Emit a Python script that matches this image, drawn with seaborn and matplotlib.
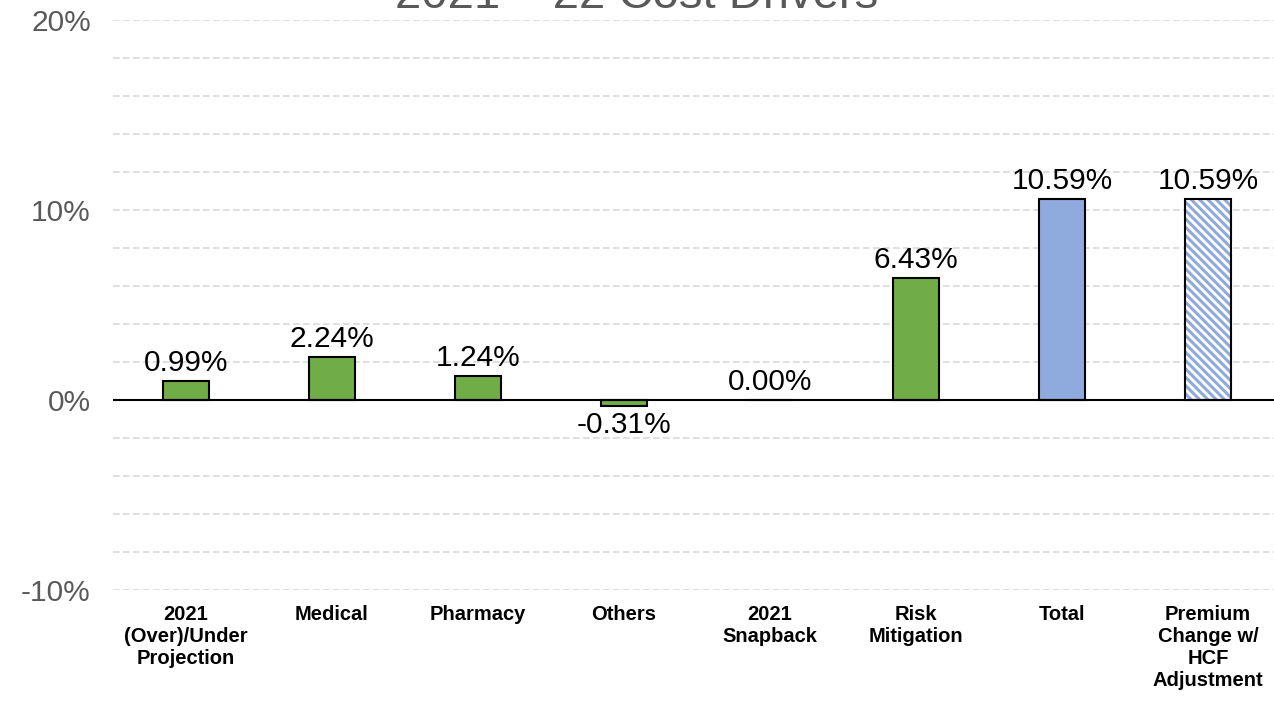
import matplotlib
matplotlib.use('Agg')
import matplotlib.pyplot as plt
import seaborn as sns
import pandas as pd
from matplotlib.colors import to_rgba
from matplotlib.ticker import MultipleLocator, FuncFormatter

categories = ['2021\n(Over)/Under\nProjection', 'Medical', 'Pharmacy', 'Others',
              '2021\nSnapback', 'Risk\nMitigation', 'Total',
              'Premium\nChange w/\nHCF\nAdjustment']
values = [0.99, 2.24, 1.24, -0.31, 0.00, 6.43, 10.59, 10.59]
labels = ['0.99%', '2.24%', '1.24%', '-0.31%', '0.00%', '6.43%', '10.59%', '10.59%']
bar_colors = ['#70AD47'] * 6 + ['#8FAADC', '#FFFFFF']

sns.set_style('white')
plt.rcParams['font.family'] = ['Liberation Sans', 'DejaVu Sans']
plt.rcParams['hatch.linewidth'] = 2.2

df = pd.DataFrame({'cat': categories, 'val': values})

fig = plt.figure(figsize=(12.74, 7.01), dpi=100)
ax = fig.add_axes([113 / 1274, 1 - 590 / 701, 1168 / 1274, 570 / 701])

sns.barplot(data=df, x='cat', y='val', hue='cat', palette=bar_colors, legend=False,
            width=0.32, edgecolor='black', linewidth=1.5, saturation=1, ax=ax, zorder=3)

# hatched last bar
last = ax.patches[-1]
last.set_hatch('\\\\\\\\')
last._hatch_color = to_rgba('#8FAADC')

ax.set_ylim(-10, 20)
ax.yaxis.set_major_locator(MultipleLocator(10))
ax.yaxis.set_minor_locator(MultipleLocator(2))
ax.yaxis.set_major_formatter(FuncFormatter(lambda v, p: f'{v:.0f}%'))
ax.grid(axis='y', which='both', linestyle=(0, (4, 2)), color='#D9D9D9', linewidth=1.2, zorder=0)
ax.axhline(0, color='black', linewidth=1.5, zorder=4)
for s in ax.spines.values():
    s.set_visible(False)
ax.tick_params(axis='y', which='both', length=0, labelsize=21.5, labelcolor='#595959', pad=16)
ax.tick_params(axis='x', length=0, pad=11)
for t in ax.get_xticklabels():
    t.set_fontweight('bold')
    t.set_fontsize(14.5)
    t.set_color('black')
    t.set_linespacing(1.2)
    t.set_verticalalignment('top')
ax.set_xlabel('')
ax.set_ylabel('')

for i, (v, lab) in enumerate(zip(values, labels)):
    if v < 0:
        ax.annotate(lab, (i, v), xytext=(0, -4), textcoords='offset points',
                    ha='center', va='top', fontsize=21.5, color='black')
    else:
        ax.annotate(lab, (i, v), xytext=(0, 3), textcoords='offset points',
                    ha='center', va='bottom', fontsize=21.5, color='black')

fig.text(0.5, 1 - 8 / 701, '2021 – 22 Cost Drivers', ha='center', va='baseline',
         fontsize=34, color='#595959')

fig.savefig('out.png', dpi=100)
